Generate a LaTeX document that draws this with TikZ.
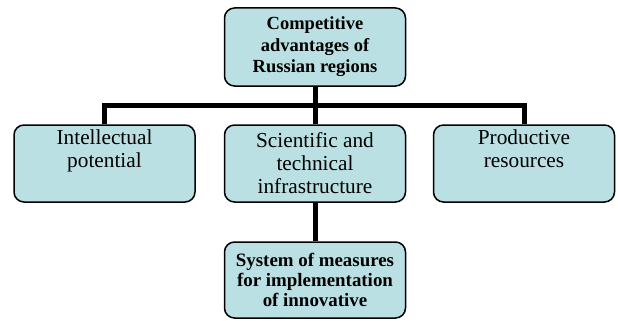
\documentclass[tikz,border=0pt]{standalone}
\usepackage{fontspec}
\setmainfont{Liberation Serif}
\begin{document}
\begin{tikzpicture}[x=1pt,y=-1pt,
  box/.style={draw=black, line width=1.5pt, rounded corners=10pt, fill=boxfill,
    minimum width=181pt, inner sep=2pt, align=center},
  topbox/.style={box, minimum height=78pt, font=\fontsize{18.5}{21.5}\selectfont\bfseries},
  midbox/.style={box, minimum height=77pt, font=\fontsize{21.3}{23}\selectfont},
  lowbox/.style={box, minimum height=76pt, font=\fontsize{18.9}{20}\selectfont\bfseries},
  link/.style={draw=black, line width=5pt}]
\definecolor{boxfill}{RGB}{187,224,227}
\useasboundingbox (0,0) rectangle (618,321);
\node[topbox] (top) at (315,47) {Competitive\\advantages of\\Russian regions};
\node[midbox] (intel) at (104.5,163.5) {Intellectual\\potential\\\strut};
\node[midbox] (sci) at (315,163.5) {Scientific and\\technical\\infrastructure};
\node[midbox] (prod) at (524,163.5) {Productive\\resources\\\strut};
\node[lowbox] (sys) at (315,280) {System of measures\\for implementation\\of innovative};
\coordinate (bar) at (315,105);
\draw[link] (top.south) -- (bar);
\draw[link] (intel.north) |- (bar) -| (prod.north);
\draw[link] (bar) -- (sci.north);
\draw[link] (sci.south) -- (sys.north);
\end{tikzpicture}
\end{document}
